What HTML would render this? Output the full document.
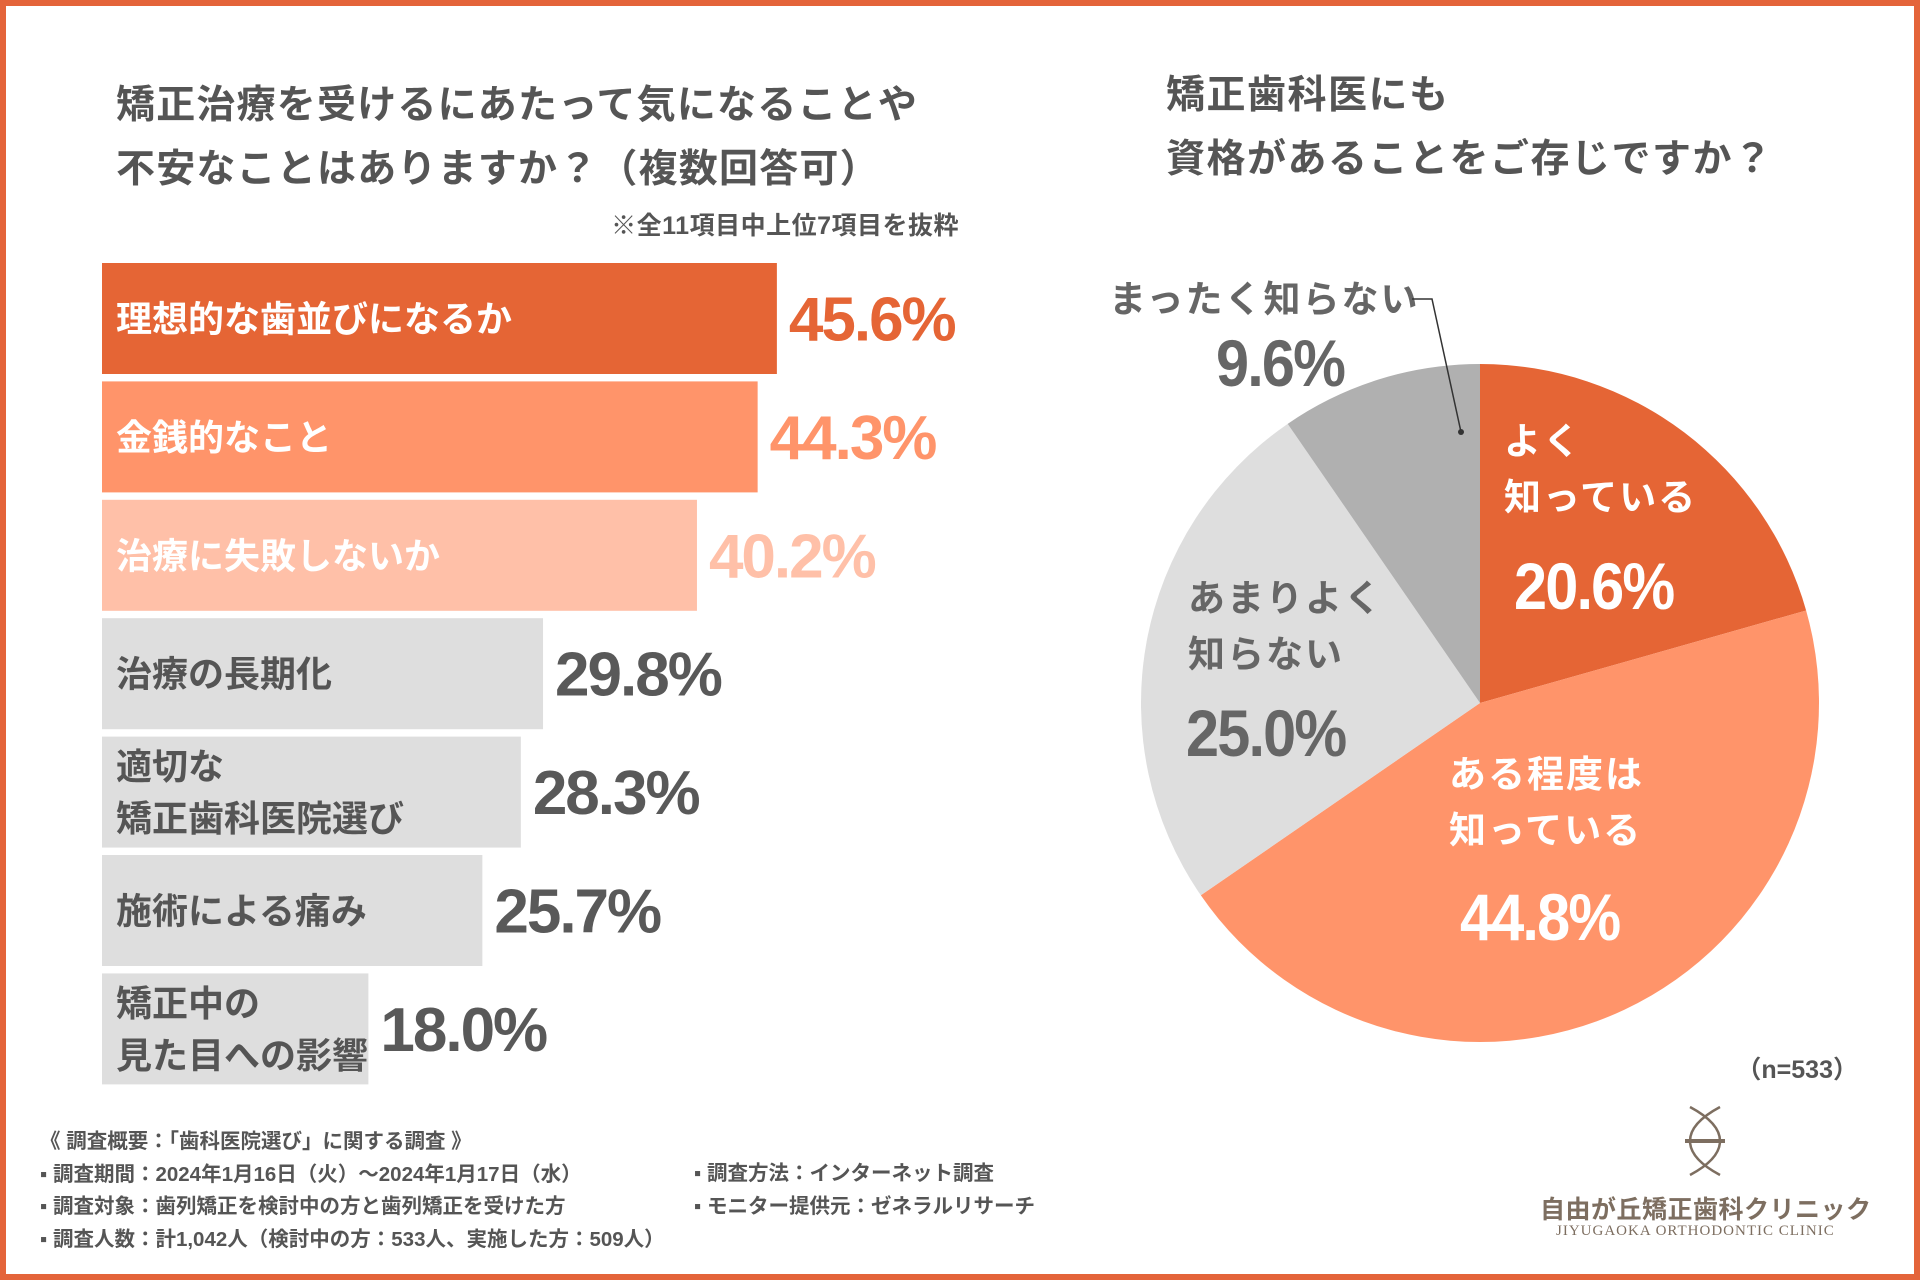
<!DOCTYPE html>
<html><head><meta charset="utf-8">
<style>
body{margin:0;width:1920px;height:1280px;overflow:hidden;background:#fff;font-family:"Liberation Sans","Noto Sans CJK JP",sans-serif;}
#frame{position:absolute;left:0;top:0;width:1920px;height:1280px;box-sizing:border-box;border:6px solid #E4643A;}
.t{position:absolute;white-space:nowrap;font-weight:bold;}
</style></head><body>
<div id="frame"></div>
<div class="t" style="left:116px;top:74px;font-size:39px;line-height:64px;color:#555;letter-spacing:1.2px;">矯正治療を受けるにあたって気になることや<br>不安なことはありますか？（複数回答可）</div>
<div class="t" style="right:961px;top:206px;font-size:25px;color:#555;letter-spacing:0.5px;">※全11項目中上位7項目を抜粋</div>
<div class="t" style="left:1166px;top:64px;font-size:39px;line-height:64px;color:#555;letter-spacing:1.5px;">矯正歯科医にも<br>資格があることをご存じですか？</div>
<svg id="chart" width="1920" height="1280" style="position:absolute;left:0;top:0"></svg>
<div class="t" style="right:62px;top:1050px;font-size:25px;color:#555;">（n=533）</div>
<div class="t" style="left:40px;top:1126px;font-size:20.5px;line-height:32.7px;color:#555;">《 調査概要：「歯科医院選び」に関する調査 》<br>▪ 調査期間：2024年1月16日（火）〜2024年1月17日（水）<br>▪ 調査対象：歯列矯正を検討中の方と歯列矯正を受けた方<br>▪ 調査人数：計1,042人（検討中の方：533人、実施した方：509人）</div>
<div class="t" style="left:694px;top:1158px;font-size:20.5px;line-height:32.7px;color:#555;">▪ 調査方法：インターネット調査<br>▪ モニター提供元：ゼネラルリサーチ</div>
<svg style="position:absolute;left:1680px;top:1105px" width="50" height="72" viewBox="0 0 50 72">
<path d="M10 2 Q40 18 40 36 Q40 54 10 70 M40 2 Q10 18 10 36 Q10 54 40 70" fill="none" stroke="#7d6e60" stroke-width="2.5"/>
<line x1="5" y1="36" x2="45" y2="36" stroke="#7d6e60" stroke-width="4"/></svg>
<div class="t" style="left:1540px;top:1190px;font-size:25px;color:#7d6e60;letter-spacing:0.5px;">自由が丘矯正歯科クリニック</div>
<div class="t" style="left:1556px;top:1223px;font-size:15px;color:#7d6e60;font-family:'Liberation Serif',serif;font-weight:normal;letter-spacing:1px;">JIYUGAOKA ORTHODONTIC CLINIC</div>
<script>
const barLabels=["理想的な歯並びになるか","金銭的なこと","治療に失敗しないか","治療の長期化","適切な\n矯正歯科医院選び","施術による痛み","矯正中の\n見た目への影響"];
const barValues=[45.6,44.3,40.2,29.8,28.3,25.7,18.0];
const barColors=["#E56535","#FF946A","#FFC0A8","#DEDEDE","#DEDEDE","#DEDEDE","#DEDEDE"];
const pieLabels=["よく\n知っている","ある程度は\n知っている","あまりよく\n知らない","まったく知らない"];
const pieValues=[20.6,44.8,25.0,9.6];
const pieColors=["#E56535","#FF946A","#DEDEDE","#B0B0B0"];
const NS="http://www.w3.org/2000/svg";
const svg=document.getElementById('chart');
function mk(tag,attrs,parent){const e=document.createElementNS(NS,tag);for(const k in attrs)e.setAttribute(k,attrs[k]);(parent||svg).appendChild(e);return e;}
const x0=102,pxPer=14.8,y0=263,pitch=118.4,bh=111;
function xs(v){return x0+v*pxPer;}
function ys(i){return y0+i*pitch;}
barValues.forEach((v,i)=>{
 const r=mk('rect',{x:x0,y:ys(i),width:xs(v)-x0,height:bh,fill:barColors[i]});
 
 
 const lines=barLabels[i].split("\n");
 const fc=i<3?"#fff":"#555";
 lines.forEach((ln,j)=>{
  const t=mk('text',{x:116,y:ys(i)+bh/2+13+(j-(lines.length-1)/2)*52,'font-size':36,'font-weight':'bold',fill:fc});
  t.textContent=ln;
  
  
 });
 const vt=mk('text',{x:xs(v)+12,y:ys(i)+bh/2+22,'font-size':62,'font-weight':'bold',fill:i<3?barColors[i]:"#595959",'letter-spacing':-2});
 vt.textContent=v.toFixed(1)+"%";
 
 
});
const cx=1480,cy=703,R=339;
const total=pieValues.reduce((a,b)=>a+b,0);
let acc=0;
function pt(frac,r){const a=frac*2*Math.PI-Math.PI/2;return [cx+r*Math.cos(a),cy+r*Math.sin(a)];}
pieValues.forEach((v,i)=>{
 const f0=acc/total;acc+=v;const f1=acc/total;
 const [x1,y1]=pt(f0,R),[x2,y2]=pt(f1,R);
 const p=mk('path',{d:`M${cx},${cy} L${x1},${y1} A${R},${R} 0 ${f1-f0>0.5?1:0} 1 ${x2},${y2} Z`,fill:pieColors[i]});
 
 
});
const labPos=[[1504,441,585,1514],[1449,774,916,1460],[1188,598,732,1186],[1109,299,362,1216]];
const labCol=["#fff","#fff","#666","#666"];
pieValues.forEach((v,i)=>{
 const [lx,ly,vy,vx]=labPos[i];
 pieLabels[i].split("\n").forEach((ln,j)=>{
  const t=mk('text',{x:lx,y:ly+j*56+13,'font-size':37,'font-weight':'bold',fill:labCol[i],'letter-spacing':2});
  t.textContent=ln;
  
  
 });
 const vt=mk('text',{x:vx,y:vy+24,'font-size':66,'font-weight':'bold',fill:labCol[i],'letter-spacing':-2,transform:`translate(${vx},0) scale(0.9,1) translate(${-vx},0)`});
 vt.textContent=v.toFixed(1)+"%";
 
 
});
const ll=mk('polyline',{points:"1412,299 1432,299 1461,432",fill:"none",stroke:"#333","stroke-width":1.5});


const dot=mk('circle',{cx:1461,cy:432,r:3,fill:"#333"});


</script>
</body></html>
